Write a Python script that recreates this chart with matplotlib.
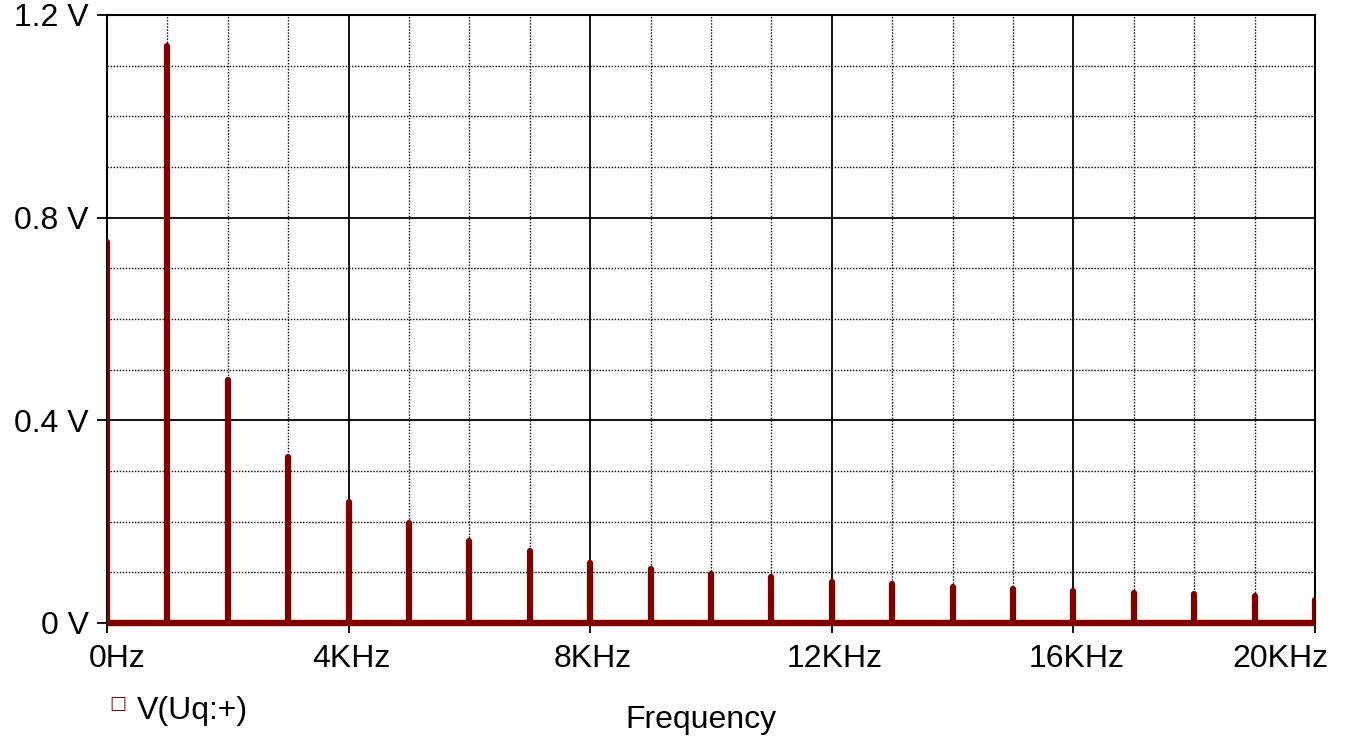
import matplotlib.pyplot as plt
import numpy as np
from matplotlib.ticker import MultipleLocator, FuncFormatter

plt.rcParams["font.family"] = ["Liberation Sans", "DejaVu Sans"]

# harmonic spectrum, frequency in kHz, amplitude in V
freq_khz = [0, 1, 2, 3, 4, 5, 6, 7, 8, 9, 10, 11, 12, 13, 14, 15, 16, 17, 18, 19, 20]
amp_v = [0.752, 1.139, 0.480, 0.328, 0.239, 0.197, 0.162, 0.142, 0.118, 0.107,
         0.097, 0.091, 0.081, 0.077, 0.071, 0.067, 0.063, 0.059, 0.057, 0.053, 0.045]
x_ticks = [0, 4, 8, 12, 16, 20]
x_ticklabels = ["0Hz", "4KHz", "8KHz", "12KHz", "16KHz", "20KHz"]
trace_label = "V(Uq:+)"
trace_color = "#800000"

fig = plt.figure(figsize=(13.46, 7.38), dpi=100)
ax = fig.add_axes([107 / 1346, 1 - 623 / 738, (1315 - 107) / 1346, (623 - 15) / 738])

ax.set_xlim(0, 20)
ax.set_ylim(0, 1.2)

# grid: dotted minor, solid major
ax.set_xticks(x_ticks)
ax.xaxis.set_minor_locator(MultipleLocator(1))
ax.yaxis.set_major_locator(MultipleLocator(0.4))
ax.yaxis.set_minor_locator(MultipleLocator(0.1))
ax.grid(which="major", color="black", linewidth=1.3, linestyle="-")
ax.grid(which="minor", color="black", linewidth=1.0, linestyle=(0, (1, 1.2)))
ax.set_axisbelow(True)

ax.yaxis.set_major_formatter(FuncFormatter(lambda v, p: "0 V" if v == 0 else f"{v:.1f} V"))
ax.tick_params(which="major", length=7, width=1.3, labelsize=23, pad=6, color="black")
ax.tick_params(axis="x", labelbottom=False)
ax.tick_params(which="minor", length=0)

# x tick labels, the end ones nudged inward like the original
x_nudge = [10, 3, 3, 3, 3, -35]
for xv, txt, dx in zip(x_ticks, x_ticklabels, x_nudge):
    ax.annotate(txt, xy=(xv, 0), xycoords=("data", "axes fraction"),
                xytext=(dx, -21), textcoords="offset pixels",
                ha="center", va="top", fontsize=23)

for s in ax.spines.values():
    s.set_linewidth(1.5)

# trace
ax.plot([freq_khz[0], freq_khz[-1]], [0, 0], color=trace_color, lw=4.6,
        solid_capstyle="butt", clip_on=False, zorder=3)
ax.vlines(freq_khz, 0, amp_v, color=trace_color, lw=4.5, zorder=3,
          capstyle="round")

ax.set_xlabel("Frequency", fontsize=23)
ax.xaxis.set_label_coords(0.492, -0.135)

# legend marker
fig.text(118 / 1346, 1 - 704 / 738, "□", color=trace_color, fontsize=13,
         ha="center", va="center", family=["DejaVu Sans"])
fig.text(137 / 1346, 1 - 711 / 738, trace_label, fontsize=23, ha="left", va="center")

fig.savefig("out.png", dpi=100)
